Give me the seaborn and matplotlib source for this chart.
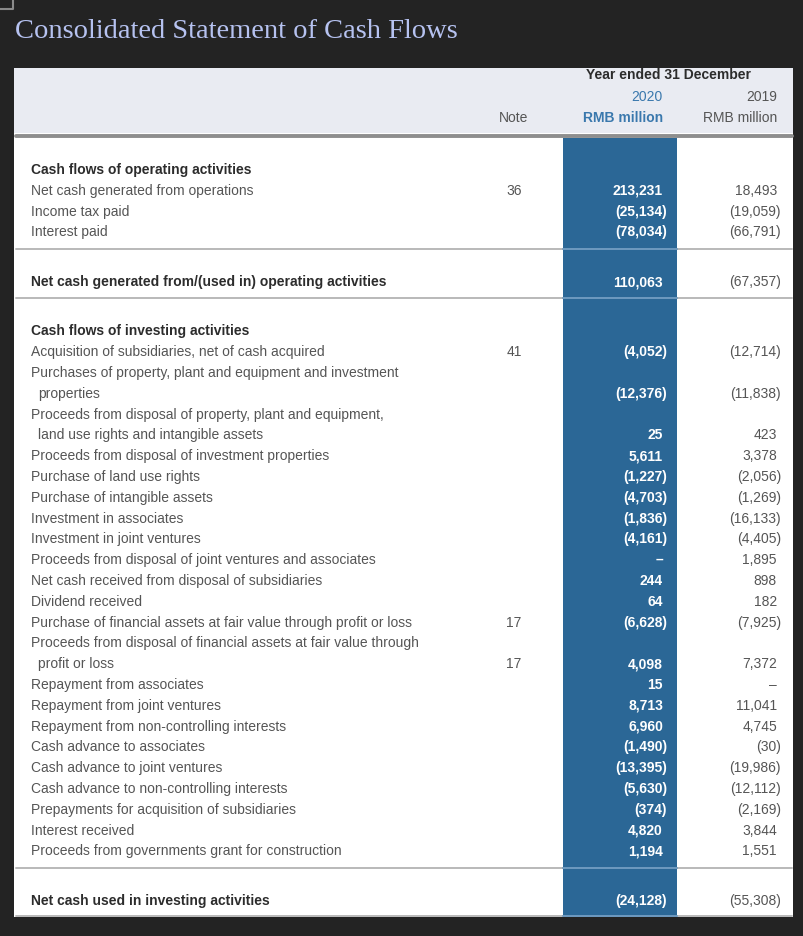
import matplotlib
matplotlib.use("Agg")
import matplotlib.pyplot as plt
from matplotlib.patches import Rectangle
import seaborn as sns

sns.set_theme(style="white")
plt.rcParams['font.family'] = ['Liberation Sans Narrow', 'Liberation Sans', 'DejaVu Sans']

# Table content
OPERATING_ITEMS = [
    "Net cash generated from operations",
    "Income tax paid",
    "Interest paid",
]
OPERATING_NOTES = ["36", "", ""]
OPERATING_2020 = [213231, -25134, -78034]
OPERATING_2019 = [18493, -19059, -66791]
NET_OPERATING = [110063, -67357]

INVESTING_ITEMS = [
    "Acquisition of subsidiaries, net of cash acquired",
    "Purchases of property, plant and equipment and investment\nproperties",
    "Proceeds from disposal of property, plant and equipment,\nland use rights and intangible assets",
    "Proceeds from disposal of investment properties",
    "Purchase of land use rights",
    "Purchase of intangible assets",
    "Investment in associates",
    "Investment in joint ventures",
    "Proceeds from disposal of joint ventures and associates",
    "Net cash received from disposal of subsidiaries",
    "Dividend received",
    "Purchase of financial assets at fair value through profit or loss",
    "Proceeds from disposal of financial assets at fair value through\nprofit or loss",
    "Repayment from associates",
    "Repayment from joint ventures",
    "Repayment from non-controlling interests",
    "Cash advance to associates",
    "Cash advance to joint ventures",
    "Cash advance to non-controlling interests",
    "Prepayments for acquisition of subsidiaries",
    "Interest received",
    "Proceeds from governments grant for construction",
]
INVESTING_NOTES = ["41", "", "", "", "", "", "", "", "", "", "", "17", "17",
                   "", "", "", "", "", "", "", "", ""]
INVESTING_2020 = [-4052, -12376, 25, 5611, -1227, -4703, -1836, -4161, 0, 244, 64,
                  -6628, 4098, 15, 8713, 6960, -1490, -13395, -5630, -374, 4820, 1194]
INVESTING_2019 = [-12714, -11838, 423, 3378, -2056, -1269, -16133, -4405, 1895, 898, 182,
                  -7925, 7372, 0, 11041, 4745, -30, -19986, -12112, -2169, 3844, 1551]
NET_INVESTING = [-24128, -55308]

# Colours
BG = "#232323"
TITLE_C = "#b6c2f0"
HEAD_BG = "#e9ebf2"
BLUE = "#2b6796"
BLUE_TXT = "#3a78ad"
DARK = "#2c2c2c"
GREY = "#555555"
LINE_C = "#b9b9b9"

FS = 10
LINE = 20.8
X_LABEL, X_INDENT, X_NOTE = 31, 38, 514
X_2020, X_2019 = 663, 777
PAREN = 4


def fmt(v):
    if v == 0:
        return "\u2013"
    if v < 0:
        return f"({-v:,})"
    return f"{v:,}"


def draw_values(ax, y, v20, v19, note=""):
    ax.text(X_2020 + (PAREN if v20 < 0 else 0), y, fmt(v20), ha="right", va="center",
            fontsize=FS, color="white", fontweight="bold")
    ax.text(X_2019 + (PAREN if v19 < 0 else 0), y, fmt(v19), ha="right", va="center",
            fontsize=FS, color=GREY)
    if note:
        ax.text(X_NOTE, y, note, ha="center", va="center", fontsize=FS, color=GREY)


def draw_item(ax, y, label, note, v20, v19):
    parts = label.split("\n")
    for i, part in enumerate(parts):
        ax.text(X_LABEL if i == 0 else X_INDENT, y + i * LINE, part,
                ha="left", va="center", fontsize=FS, color=GREY)
    y_last = y + (len(parts) - 1) * LINE
    draw_values(ax, y_last, v20, v19, note)
    return y_last + LINE


def separator(ax, y):
    ax.plot([16, 792], [y, y], color=LINE_C, lw=1.4, zorder=2)
    ax.plot([563, 677], [y, y], color="#6a98bf", lw=1.4, zorder=3)


fig = plt.figure(figsize=(8.04, 9.36), dpi=100, facecolor=BG)
ax = fig.add_axes([0, 0, 1, 1])
ax.set_xlim(0, 804)
ax.set_ylim(936, 0)
ax.axis("off")

# corner mark and title
ax.plot([0, 13, 13], [9, 9, 0], color="#8a8a8a", lw=1.5)
ax.text(15, 31, "Consolidated Statement of Cash Flows", ha="left", va="center",
        fontsize=20.5, color=TITLE_C, family=["Liberation Serif", "DejaVu Serif"])

# panel, header and highlighted column
ax.add_patch(Rectangle((14, 68), 779, 849, fc="white", ec="none", zorder=0))
ax.add_patch(Rectangle((14, 68), 779, 65, fc=HEAD_BG, ec="none", zorder=1))
ax.plot([16, 792], [135.5, 135.5], color="#8e8e8e", lw=2.8, zorder=2)
ax.add_patch(Rectangle((563, 138), 114, 778, fc=BLUE, ec="none", zorder=1))

ax.text(669, 75, "Year ended 31 December", ha="center", va="center", fontsize=FS,
        color=DARK, fontweight="bold")
ax.text(X_2020, 97, "2020", ha="right", va="center", fontsize=FS, color=BLUE_TXT)
ax.text(X_2019, 97, "2019", ha="right", va="center", fontsize=FS, color=GREY)
ax.text(X_NOTE, 118, "Note", ha="center", va="center", fontsize=FS, color=GREY)
ax.text(X_2020, 118, "RMB million", ha="right", va="center", fontsize=FS,
        color=BLUE_TXT, fontweight="bold")
ax.text(X_2019, 118, "RMB million", ha="right", va="center", fontsize=FS, color=GREY)

# operating activities
y = 170
ax.text(X_LABEL, y, "Cash flows of operating activities", ha="left", va="center",
        fontsize=FS, color=DARK, fontweight="bold")
y += LINE
for label, note, v20, v19 in zip(OPERATING_ITEMS, OPERATING_NOTES, OPERATING_2020, OPERATING_2019):
    y = draw_item(ax, y, label, note, v20, v19)
last = y - LINE
separator(ax, last + 17)
y = last + 50
ax.text(X_LABEL, y, "Net cash generated from/(used in) operating activities", ha="left",
        va="center", fontsize=FS, color=DARK, fontweight="bold")
draw_values(ax, y, NET_OPERATING[0], NET_OPERATING[1])
separator(ax, y + 16)

# investing activities
y += 49
ax.text(X_LABEL, y, "Cash flows of investing activities", ha="left", va="center",
        fontsize=FS, color=DARK, fontweight="bold")
y += LINE
for label, note, v20, v19 in zip(INVESTING_ITEMS, INVESTING_NOTES, INVESTING_2020, INVESTING_2019):
    y = draw_item(ax, y, label, note, v20, v19)
last = y - LINE
separator(ax, last + 17)
y = last + 50
ax.text(X_LABEL, y, "Net cash used in investing activities", ha="left", va="center",
        fontsize=FS, color=DARK, fontweight="bold")
draw_values(ax, y, NET_INVESTING[0], NET_INVESTING[1])
separator(ax, y + 15)

fig.savefig("out.png", dpi=100, facecolor=BG)
